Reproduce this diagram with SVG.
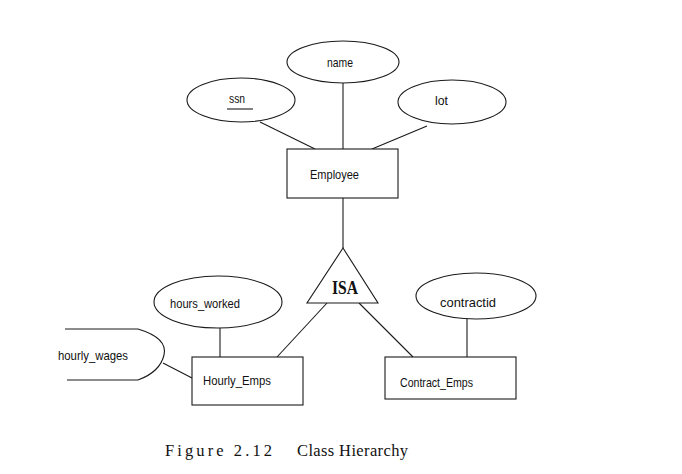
<svg xmlns="http://www.w3.org/2000/svg" width="682" height="474" viewBox="0 0 682 474">
<style>
.s{fill:none;stroke:#1a1a1a;stroke-width:1.1}
.b{fill:#fff;stroke:#1a1a1a;stroke-width:1.1}
.t{font-family:"Liberation Sans",Arial,sans-serif;font-size:13px;fill:#111}
.c{font-family:"Liberation Serif","Times New Roman",serif;font-size:16.5px;fill:#111}
</style>
<rect width="682" height="474" fill="#fff"/>
<g id="connectors" class="s">
<line x1="343" y1="83" x2="343" y2="149"/>
<line x1="260" y1="122" x2="315" y2="149"/>
<line x1="427" y1="126" x2="372" y2="149"/>
<line x1="343" y1="198" x2="343" y2="248"/>
<line x1="327" y1="303" x2="277" y2="357"/>
<line x1="359" y1="303" x2="413" y2="357"/>
<line x1="220" y1="328" x2="220" y2="357"/>
<line x1="467" y1="318" x2="467" y2="357"/>
<line x1="163" y1="363" x2="192" y2="378"/>
</g>
<g id="name"><ellipse class="b" cx="343" cy="62" rx="56" ry="21"/><text class="t" x="327" y="67" textLength="26" lengthAdjust="spacingAndGlyphs">name</text></g>
<g id="ssn"><ellipse class="b" cx="241" cy="100" rx="54" ry="22"/><text class="t" x="229" y="103" textLength="16" lengthAdjust="spacingAndGlyphs">ssn</text><line class="s" x1="227" y1="109" x2="253" y2="109"/></g>
<g id="lot"><ellipse class="b" cx="452" cy="102" rx="54" ry="22"/><text class="t" x="435" y="105" textLength="13" lengthAdjust="spacingAndGlyphs">lot</text></g>
<g id="employee"><rect class="b" x="287" y="149" width="111" height="49"/><text class="t" x="310" y="179" textLength="49" lengthAdjust="spacingAndGlyphs">Employee</text></g>
<g id="isa"><polygon class="b" points="343,248 307,303 378,303"/><text x="332" y="294" textLength="26" lengthAdjust="spacingAndGlyphs" style="font-family:'Liberation Serif','Times New Roman',serif;font-size:18px;font-weight:bold;fill:#111">ISA</text></g>
<g id="hours_worked"><ellipse class="b" cx="218" cy="302" rx="64" ry="26"/><text class="t" x="170" y="308" textLength="70" lengthAdjust="spacingAndGlyphs">hours_worked</text></g>
<g id="hourly_wages"><line class="s" x1="65" y1="329" x2="138" y2="329"/><line class="s" x1="67" y1="380" x2="138" y2="380"/><path class="s" d="M138,329 Q168,338 164,355 Q160,372 138,380"/><text class="t" x="58" y="360" textLength="70" lengthAdjust="spacingAndGlyphs">hourly_wages</text></g>
<g id="hourly_emps"><rect class="b" x="192" y="357" width="111" height="48"/><text class="t" x="203" y="385" textLength="68" lengthAdjust="spacingAndGlyphs">Hourly_Emps</text></g>
<g id="contractid"><ellipse class="b" cx="476" cy="296" rx="60" ry="23"/><text class="t" x="440" y="307" textLength="56" lengthAdjust="spacingAndGlyphs">contractid</text></g>
<g id="contract_emps"><rect class="b" x="385" y="357" width="131" height="42"/><text class="t" x="400" y="387" textLength="73" lengthAdjust="spacingAndGlyphs">Contract_Emps</text></g>
<g id="caption"><text class="c" x="165" y="456" textLength="107" lengthAdjust="spacing">Figure 2.12</text><text class="c" x="297" y="456" textLength="111" lengthAdjust="spacing">Class Hierarchy</text></g>
</svg>
